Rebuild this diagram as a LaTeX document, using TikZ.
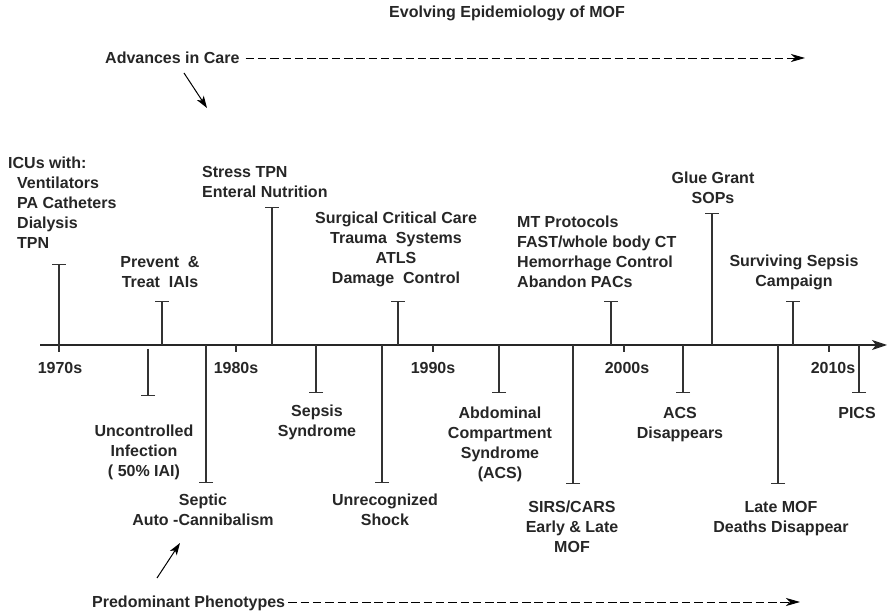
\documentclass[tikz,border=0pt]{standalone}
\usepackage{fontspec}
\setmainfont{Liberation Sans}
\usetikzlibrary{arrows.meta}
\usetikzlibrary{positioning}

\begin{document}
\begin{tikzpicture}[
  x=1pt, y=-1pt,
  every node/.style={font=\bfseries\fontsize{16}{20}\selectfont, inner sep=0pt, text=black!85},
  lbl/.style={align=center},
  lblleft/.style={align=left},
  stem/.style={line width=1.1pt, draw=black!80, -{Bar[width=14pt]}},
  tick/.style={line width=1.1pt, draw=black!80},
  axis/.style={line width=1.2pt, draw=black!85, -{Stealth[length=15pt,width=10pt,inset=4pt]}},
  dasharrow/.style={line width=0.9pt, dash pattern=on 8.5pt off 3.8pt, -{Stealth[length=14pt,width=8pt,inset=4pt]}},
  arrow/.style={line width=1pt, -{Stealth[length=12pt,width=8pt,inset=3pt]}}
]
\useasboundingbox (0,0) rectangle (887,612);

% Titles
\node[lbl, anchor=north] (title) at (507,6.2) {Evolving Epidemiology of MOF};
\node[anchor=north west] (advances) at (105,52.2) {Advances in Care};
\node[anchor=north west] (pheno) at (92,596.2) {Predominant Phenotypes};
\coordinate (advend) at (805,58);
\coordinate (phenoend) at (800,602);
\coordinate (advtail) at (184,73);
\coordinate (advhead) at (207,108);
\coordinate (phenotail) at (157,578);
\coordinate (phenohead) at (180,543);

\draw[dasharrow] ([xshift=6pt]advances.east |- advend) -- (advend);
\draw[dasharrow] ([xshift=3pt]pheno.east |- phenoend) -- (phenoend);
\draw[arrow] (advtail) -- (advhead);
\draw[arrow] (phenotail) -- (phenohead);

% Time axis
\coordinate (axstart) at (40,345);
\coordinate (axend) at (887,345);
\draw[axis] (axstart) -- (axend);

\node[anchor=north] (d1970) at (60,362.2) {1970s};
\node[anchor=north] (d1980) at (236,362.2) {1980s};
\node[anchor=north] (d1990) at (433,362.2) {1990s};
\node[anchor=north] (d2000) at (627,362.2) {2000s};
\node[anchor=north] (d2010) at (833,362.2) {2010s};
\draw[tick] (59,345) -- (59,352);
\draw[tick] (236,345) -- (236,352);
\draw[tick] (433,345) -- (433,352);
\draw[tick] (624,345) -- (624,352);
\draw[tick] (829,345) -- (829,352);

% Advances (above the axis)
\node[lblleft, anchor=north west] (icu) at (8,157.2)
  {ICUs with:\\\hspace*{9pt}Ventilators\\\hspace*{9pt}PA Catheters\\\hspace*{9pt}Dialysis\\\hspace*{9pt}TPN};
\node[lbl, anchor=north] (iai) at (160,256.2) {Prevent~~\&\\Treat~~IAIs};
\node[lblleft, anchor=north west] (tpn) at (202,166.2) {Stress TPN\\Enteral Nutrition};
\node[lbl, anchor=north] (scc) at (396,212.2)
  {Surgical Critical Care\\Trauma~~Systems\\ATLS\\Damage~~Control};
\node[lblleft, anchor=north west] (mtp) at (517,216.2)
  {MT Protocols\\FAST/whole body CT\\Hemorrhage Control\\Abandon PACs};
\node[lbl, anchor=north] (glue) at (713,172.2) {Glue Grant\\SOPs};
\node[lbl, anchor=north] (ssc) at (794,255.2) {Surviving Sepsis\\Campaign};

\coordinate (icu-a) at (59,345);   \coordinate (icu-b) at (59,264);
\coordinate (iai-a) at (162,345);  \coordinate (iai-b) at (162,301);
\coordinate (tpn-a) at (272,345);  \coordinate (tpn-b) at (272,207);
\coordinate (scc-a) at (398,345);  \coordinate (scc-b) at (398,301);
\coordinate (mtp-a) at (611,345);  \coordinate (mtp-b) at (611,301);
\coordinate (glue-a) at (712,345); \coordinate (glue-b) at (712,213);
\coordinate (ssc-a) at (793,345);  \coordinate (ssc-b) at (793,301);

\draw[stem] (icu-a) -- (icu-b);
\draw[stem] (iai-a) -- (iai-b);
\draw[stem] (tpn-a) -- (tpn-b);
\draw[stem] (scc-a) -- (scc-b);
\draw[stem] (mtp-a) -- (mtp-b);
\draw[stem] (glue-a) -- (glue-b);
\draw[stem] (ssc-a) -- (ssc-b);

% Phenotypes (below the axis)
\node[lbl, anchor=north] (unc) at (144,425.2) {Uncontrolled\\Infection\\( 50\% IAI)};
\node[lbl, anchor=north] (septic) at (203,494.2) {Septic\\Auto -Cannibalism};
\node[lbl, anchor=north] (sepsis) at (317,405.2) {Sepsis\\Syndrome};
\node[lbl, anchor=north] (shock) at (385,494.2) {Unrecognized\\Shock};
\node[lbl, anchor=north] (acs) at (500,407.2) {Abdominal\\Compartment\\Syndrome\\(ACS)};
\node[lbl, anchor=north] (sirs) at (572,501.2) {SIRS/CARS\\Early \& Late\\MOF};
\node[lbl, anchor=north] (acsgone) at (680,407.2) {ACS\\Disappears};
\node[lbl, anchor=north] (latemof) at (781,501.2) {Late MOF\\Deaths Disappear};
\node[lbl, anchor=north] (pics) at (857,407.2) {PICS};

\coordinate (unc-a) at (148,349);     \coordinate (unc-b) at (148,396);
\coordinate (septic-a) at (206,345);  \coordinate (septic-b) at (206,483);
\coordinate (sepsis-a) at (316,345);  \coordinate (sepsis-b) at (316,393);
\coordinate (shock-a) at (382,345);   \coordinate (shock-b) at (382,483);
\coordinate (acs-a) at (499,345);     \coordinate (acs-b) at (499,393);
\coordinate (sirs-a) at (573,345);    \coordinate (sirs-b) at (573,484);
\coordinate (acsgone-a) at (683,345); \coordinate (acsgone-b) at (683,393);
\coordinate (latemof-a) at (778,345); \coordinate (latemof-b) at (778,484);
\coordinate (pics-a) at (859,345);    \coordinate (pics-b) at (859,393);

\draw[stem] (unc-a) -- (unc-b);
\draw[stem] (septic-a) -- (septic-b);
\draw[stem] (sepsis-a) -- (sepsis-b);
\draw[stem] (shock-a) -- (shock-b);
\draw[stem] (acs-a) -- (acs-b);
\draw[stem] (sirs-a) -- (sirs-b);
\draw[stem] (acsgone-a) -- (acsgone-b);
\draw[stem] (latemof-a) -- (latemof-b);
\draw[stem] (pics-a) -- (pics-b);
\end{tikzpicture}
\end{document}
